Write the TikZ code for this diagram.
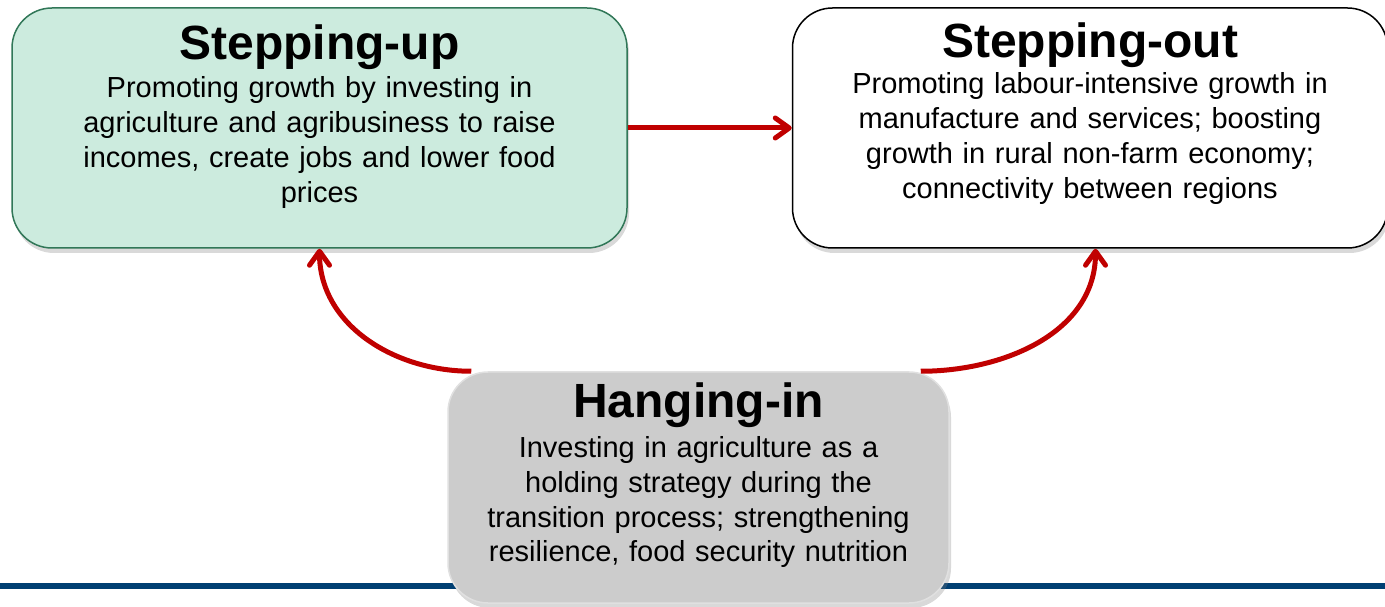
\documentclass[tikz,border=0pt]{standalone}
\usepackage{fontspec}
\setmainfont{Liberation Sans}
\usetikzlibrary{arrows.meta}
\usetikzlibrary{positioning}
\usetikzlibrary{shadows}
\definecolor{boxgreen}{RGB}{204,235,222}
\definecolor{linegreen}{RGB}{49,119,88}
\definecolor{boxgray}{RGB}{204,204,204}
\definecolor{arrowred}{RGB}{192,0,0}
\definecolor{barblue}{RGB}{0,63,114}

\begin{document}
\begin{tikzpicture}[x=1pt,y=1pt,
  stepbox/.style={rounded corners=40pt,inner sep=0pt,align=center,line width=1.5pt,
    font=\fontsize{29}{35}\selectfont,
    drop shadow={opacity=0.3,shadow xshift=2pt,shadow yshift=-5pt}},
  arr/.style={arrowred,line width=5pt,-{Straight Barb[round,length=14pt,width=20pt]}}]
  \useasboundingbox (0,0) rectangle (1385,606);
  \draw[barblue,line width=6pt](0,20)--(1385,20);
  \node[stepbox,fill=boxgreen,draw=linegreen,minimum width=615pt,text width=600pt,
    text height=52pt,text depth=188pt] (up) at (319.5,478)
    {{\fontsize{48}{50}\selectfont\bfseries Stepping-up}\\[3pt]
     Promoting growth by investing in\\
     agriculture and agribusiness to raise\\
     incomes, create jobs and lower food\\
     prices};
  \node[stepbox,fill=white,draw=black,minimum width=595pt,text width=580pt,
    text height=50pt,text depth=190pt,right=164pt of up] (out)
    {{\fontsize{48}{50}\selectfont\bfseries Stepping-out}\\[1pt]
     Promoting labour-intensive growth in\\
     manufacture and services; boosting\\
     growth in rural non-farm economy;\\
     connectivity between regions};
  \node[stepbox,fill=boxgray,draw=white!88!black,minimum width=501pt,text width=490pt,
    text height=45pt,text depth=186pt] (hang) at (698.5,118.5)
    {{\fontsize{48}{50}\selectfont\bfseries Hanging-in}\\[5pt]
     Investing in agriculture as a\\
     holding strategy during the\\
     transition process; strengthening\\
     resilience, food security nutrition};
  \draw[arr](up)--(out);
  \draw[arr]([xshift=24pt]hang.north west) to[out=180,in=-90] (up.south);
  \draw[arr]([xshift=-29pt]hang.north east) to[out=0,in=-90] ([xshift=5.5pt]out.south);
\end{tikzpicture}
\end{document}
